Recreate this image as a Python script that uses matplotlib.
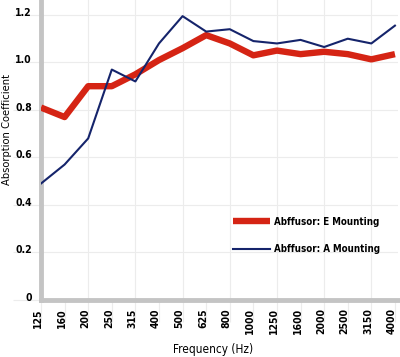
import numpy as np
import matplotlib
matplotlib.use('Agg')
import matplotlib.pyplot as plt
from matplotlib.transforms import ScaledTranslation

# chart data
freqs = ['125', '160', '200', '250', '315', '400', '500', '625', '800',
         '1000', '1250', '1600', '2000', '2500', '3150', '4000']
e_mounting = [0.81, 0.77, 0.90, 0.90, 0.95, 1.01, 1.06, 1.115, 1.08,
              1.03, 1.05, 1.035, 1.045, 1.035, 1.013, 1.035]
a_mounting = [0.49, 0.57, 0.68, 0.97, 0.92, 1.08, 1.195, 1.13, 1.14,
              1.09, 1.08, 1.095, 1.065, 1.10, 1.08, 1.155]
yticks = [0, 0.2, 0.4, 0.6, 0.8, 1.0, 1.2]
ytick_labels = ['0', '0.2', '0.4', '0.6', '0.8', '1.0', '1.2']

# condensed bold face to get near the narrow look of the original
plt.rcParams['font.family'] = ['DejaVu Sans']
plt.rcParams['font.stretch'] = 'condensed'
plt.rcParams['font.weight'] = 'bold'

fig = plt.figure(figsize=(4, 3.57), dpi=100)
ax = fig.add_axes([0.1025, 0.16, 0.8925, 0.84])

x = np.arange(len(freqs))
ax.plot(x, e_mounting, color='#d52414', lw=4.6, solid_capstyle='butt',
        label='Abffusor: E Mounting', zorder=3)
ax.plot(x, a_mounting, color='#15246b', lw=1.5, label='Abffusor: A Mounting', zorder=4)

ax.set_xlim(0, 15.13)
ax.set_ylim(0, 1.263)
ax.set_xticks(x)
ax.set_xticklabels(freqs, rotation=90, fontsize=7.5)
ax.set_yticks(yticks)
ax.set_yticklabels(ytick_labels, fontsize=7.5)
# long light ticks with the labels sitting over them
ax.tick_params(axis='x', length=16, color='#ececec', width=0.8, pad=-10)
ax.tick_params(axis='y', length=20, color='#ececec', width=0.8, pad=-13.5)

# nudge labels a bit like the original
for lab in ax.get_yticklabels():
    lab.set_transform(lab.get_transform() + ScaledTranslation(0, 3/100, fig.dpi_scale_trans))
for lab in ax.get_xticklabels():
    lab.set_transform(lab.get_transform() + ScaledTranslation(-3/100, 0, fig.dpi_scale_trans))

# gridlines: horizontal at every tick, vertical every other category
for yv in yticks[1:]:
    ax.axhline(yv, color='#ececec', lw=0.8, zorder=0)
for xv in x[2::2]:
    ax.axvline(xv, color='#ececec', lw=0.8, zorder=0)

for s in ['top', 'right']:
    ax.spines[s].set_visible(False)
for s in ['left', 'bottom']:
    ax.spines[s].set_color('#c4c4c4')
    ax.spines[s].set_linewidth(3.5)

ax.set_ylabel('Absorption Coefficient', fontsize=8)
ax.yaxis.set_label_coords(-0.08, 0.567)
ax.set_xlabel('Frequency (Hz)', fontsize=8.5)
ax.xaxis.set_label_coords(0.482, -0.143)

ax.legend(loc='center left', bbox_to_anchor=(0.538, 0.215), frameon=False,
          fontsize=7, handlelength=3.8, handletextpad=0.4, labelspacing=1.75,
          borderpad=0, borderaxespad=0)

fig.savefig('out.png', dpi=100)
